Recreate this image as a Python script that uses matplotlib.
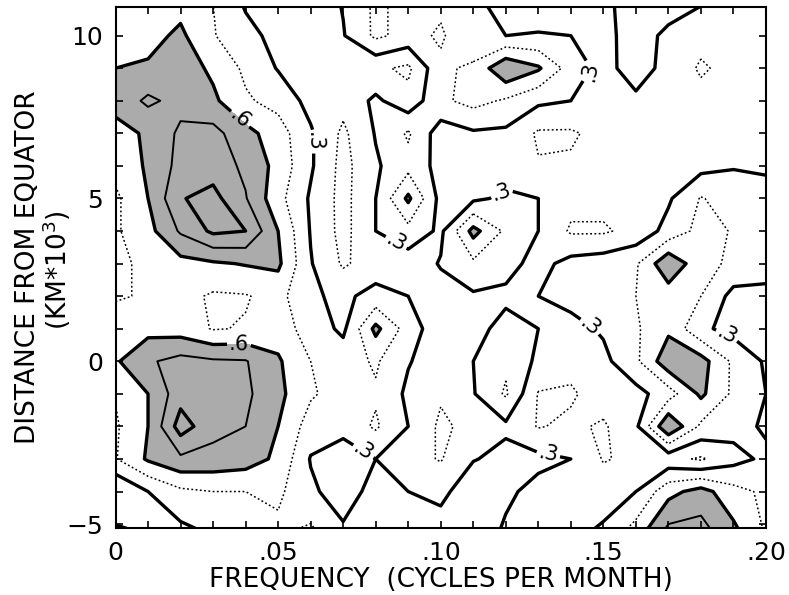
import numpy as np
import matplotlib
matplotlib.use("Agg")
import matplotlib.pyplot as plt
from matplotlib.ticker import MultipleLocator

# frequency (cycles per month) and distance from equator (1000 km) of the grid
freq = [0.00, 0.01, 0.02, 0.03, 0.04, 0.05, 0.06, 0.07, 0.08, 0.09, 0.10,
        0.11, 0.12, 0.13, 0.14, 0.15, 0.16, 0.17, 0.18, 0.19, 0.20]
dist = [11, 10, 9, 8, 7, 6, 5, 4, 3, 2, 1, 0, -1, -2, -3, -4, -5.15]

# values, one row per distance (top to bottom)
coh = [
    [0.52, 0.52, 0.55, 0.45, 0.28, 0.22, 0.20, 0.31, 0.48, 0.40, 0.42, 0.33, 0.25, 0.22, 0.25, 0.27, 0.36, 0.36, 0.31, 0.22, 0.22],
    [0.50, 0.55, 0.63, 0.46, 0.35, 0.25, 0.20, 0.29, 0.48, 0.40, 0.47, 0.33, 0.30, 0.31, 0.30, 0.26, 0.36, 0.27, 0.20, 0.22, 0.22],
    [0.60, 0.62, 0.68, 0.57, 0.42, 0.29, 0.20, 0.20, 0.18, 0.12, 0.42, 0.48, 0.73, 0.62, 0.38, 0.25, 0.37, 0.25, 0.13, 0.20, 0.22],
    [0.65, 0.78, 0.70, 0.63, 0.47, 0.40, 0.25, 0.20, 0.33, 0.20, 0.42, 0.50, 0.43, 0.33, 0.30, 0.22, 0.27, 0.22, 0.20, 0.22, 0.23],
    [0.55, 0.62, 0.78, 0.80, 0.65, 0.52, 0.32, 0.12, 0.31, 0.47, 0.22, 0.28, 0.27, 0.13, 0.13, 0.20, 0.20, 0.20, 0.20, 0.22, 0.22],
    [0.50, 0.62, 0.80, 0.83, 0.72, 0.55, 0.32, 0.10, 0.28, 0.40, 0.25, 0.20, 0.22, 0.16, 0.17, 0.20, 0.20, 0.22, 0.25, 0.29, 0.28],
    [0.42, 0.60, 0.89, 0.95, 0.76, 0.50, 0.28, 0.10, 0.30, 0.63, 0.25, 0.27, 0.33, 0.30, 0.20, 0.20, 0.22, 0.28, 0.46, 0.38, 0.35],
    [0.43, 0.55, 0.77, 0.93, 0.90, 0.60, 0.29, 0.10, 0.30, 0.40, 0.27, 0.65, 0.42, 0.30, 0.13, 0.13, 0.20, 0.35, 0.50, 0.44, 0.38],
    [0.40, 0.50, 0.55, 0.58, 0.61, 0.63, 0.31, 0.13, 0.22, 0.22, 0.31, 0.42, 0.35, 0.25, 0.35, 0.38, 0.43, 0.72, 0.50, 0.42, 0.38],
    [0.43, 0.47, 0.50, 0.43, 0.44, 0.50, 0.32, 0.27, 0.35, 0.30, 0.25, 0.28, 0.27, 0.30, 0.35, 0.38, 0.45, 0.52, 0.45, 0.25, 0.25],
    [0.55, 0.55, 0.53, 0.44, 0.46, 0.53, 0.38, 0.27, 0.64, 0.38, 0.20, 0.25, 0.35, 0.30, 0.25, 0.32, 0.43, 0.57, 0.33, 0.25, 0.22],
    [0.58, 0.73, 0.80, 0.77, 0.76, 0.62, 0.45, 0.38, 0.47, 0.31, 0.22, 0.30, 0.42, 0.27, 0.20, 0.26, 0.42, 0.70, 0.66, 0.42, 0.28],
    [0.46, 0.60, 0.84, 0.80, 0.78, 0.64, 0.47, 0.38, 0.43, 0.27, 0.17, 0.29, 0.47, 0.14, 0.13, 0.22, 0.25, 0.38, 0.63, 0.42, 0.30],
    [0.43, 0.60, 0.97, 0.80, 0.75, 0.60, 0.38, 0.36, 0.47, 0.30, 0.12, 0.20, 0.27, 0.14, 0.18, 0.13, 0.27, 0.74, 0.42, 0.35, 0.28],
    [0.44, 0.62, 0.72, 0.70, 0.67, 0.57, 0.29, 0.20, 0.30, 0.20, 0.14, 0.29, 0.35, 0.34, 0.30, 0.14, 0.18, 0.20, 0.13, 0.25, 0.33],
    [0.14, 0.30, 0.42, 0.45, 0.45, 0.48, 0.33, 0.22, 0.36, 0.30, 0.25, 0.42, 0.33, 0.25, 0.22, 0.22, 0.30, 0.55, 0.66, 0.50, 0.42],
    [0.32, 0.27, 0.27, 0.33, 0.40, 0.42, 0.47, 0.32, 0.38, 0.36, 0.38, 0.40, 0.28, 0.22, 0.25, 0.32, 0.50, 0.78, 0.80, 0.63, 0.43],
]

dotted_levels = [0.15, 0.45]
thin_levels = [0.75]
heavy_levels = [0.3, 0.6, 0.9]
xtick_vals = [0, 0.05, 0.10, 0.15, 0.20]
xtick_text = ["0", ".05", ".10", ".15", ".20"]
ytick_vals = [-5, 0, 5, 10]
ytick_text = ["\u22125", "0", "5", "10"]

fig = plt.figure(figsize=(7.89, 5.95), dpi=100)
ax = fig.add_axes([115.5 / 789, 1 - 528 / 595, 650.5 / 789, 521 / 595])

X, Y = np.meshgrid(freq, dist)
Z = np.array(coh)

ax.contourf(X, Y, Z, levels=[0.6, 1.0], colors=["#ababab"])
ax.contour(X, Y, Z, levels=dotted_levels, colors="black", linewidths=1.1,
           linestyles=[(0, (1.2, 1.6))])
ax.contour(X, Y, Z, levels=thin_levels, colors="black", linewidths=1.4)
cs3 = ax.contour(X, Y, Z, levels=[heavy_levels[0]], colors="black", linewidths=2.4)
cs6 = ax.contour(X, Y, Z, levels=[heavy_levels[1]], colors="black", linewidths=2.4)
ax.contour(X, Y, Z, levels=[heavy_levels[2]], colors="black", linewidths=2.4)

# label a few of the .3 and .6 lines like the original
pos3 = [(0.061, 6.75), (0.086, 3.6), (0.119, 5.15), (0.146, 1.08),
        (0.186, 0.37), (0.076, -2.8), (0.133, -2.9), (0.146, 8.9)]
pos6 = [(0.038, 7.4), (0.038, 0.43)]
ax.clabel(cs3, fmt=lambda v: ".3", manual=pos3, inline=True,
          inline_spacing=2, fontsize=15)
ax.clabel(cs6, fmt=lambda v: ".6", manual=pos6, inline=True,
          inline_spacing=2, fontsize=15)

ax.set_xlim(0, 0.2)
ax.set_ylim(-5.12, 10.88)
ax.set_xticks(xtick_vals)
ax.set_xticklabels(xtick_text)
ax.set_yticks(ytick_vals)
ax.set_yticklabels(ytick_text)
ax.xaxis.set_minor_locator(MultipleLocator(0.01))
ax.yaxis.set_minor_locator(MultipleLocator(1))
ax.tick_params(which="both", direction="in", top=True, right=True,
               length=5, width=1.2, labelsize=18, pad=9)
for s in ax.spines.values():
    s.set_linewidth(1.5)

ax.set_xlabel("FREQUENCY  (CYCLES PER MONTH)", fontsize=19, labelpad=2)
fig.text(28 / 789, 1 - 267 / 595, "DISTANCE FROM EQUATOR", rotation=90,
         ha="center", va="center", fontsize=19)
fig.text(57 / 789, 1 - 270 / 595, "(KM*10$^{3}$)", rotation=90,
         ha="center", va="center", fontsize=19)

fig.savefig("out.png", dpi=100)
